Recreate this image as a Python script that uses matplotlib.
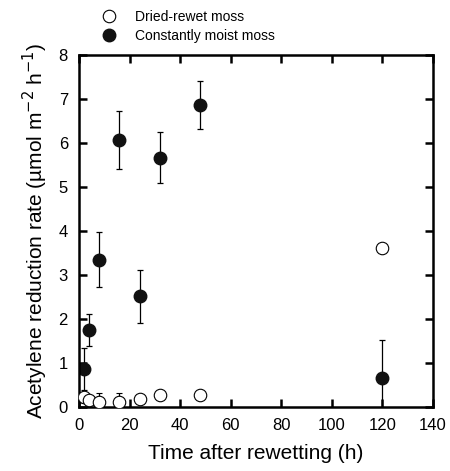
import numpy as np
import matplotlib.pyplot as plt

plt.rcParams['font.family'] = ['Liberation Sans', 'DejaVu Sans']

# constantly moist moss
hours_moist = [2, 4, 8, 16, 24, 32, 48, 120]
rate_moist = [0.87, 1.75, 3.35, 6.06, 2.52, 5.67, 6.86, 0.66]
err_moist = [0.48, 0.37, 0.62, 0.66, 0.60, 0.58, 0.54, 0.87]

# dried-rewet moss
hours_dry = [2, 4, 8, 16, 24, 32, 48, 120]
rate_dry = [0.22, 0.15, 0.12, 0.12, 0.19, 0.27, 0.28, 3.61]
err_dry = [0.13, 0.0, 0.19, 0.19, 0.0, 0.0, 0.0, 0.0]

fig = plt.figure(figsize=(4.5, 4.71), dpi=100)
ax = fig.add_axes([0.1756, 0.1359, 0.7864, 0.7473])

moist = ax.errorbar(hours_moist, rate_moist, yerr=err_moist, fmt='o', color='black',
                    mfc='#111111', mec='#111111', ms=9, elinewidth=0.9, capsize=2,
                    capthick=0.9, zorder=2)
dry = ax.errorbar(hours_dry, rate_dry, yerr=err_dry, fmt='o', color='black',
                  mfc='white', mec='black', mew=0.8, ms=9, elinewidth=0.9, capsize=2,
                  capthick=0.9, zorder=3)

ax.set_xlim(0, 140)
ax.set_ylim(0, 8)
ax.set_xticks(np.arange(0, 141, 20))
ax.set_yticks(np.arange(0, 9, 1))
ax.tick_params(direction='in', top=True, right=True, length=6, width=1.8,
               labelsize=12, pad=8)
for s in ax.spines.values():
    s.set_linewidth(1.8)

ax.set_xlabel('Time after rewetting (h)', fontsize=15, labelpad=8)
ax.set_ylabel('Acetylene reduction rate (\u00b5mol m$^{-2}$ h$^{-1}$)',
              fontsize=15, labelpad=6)

# legend shows only the markers, no error bars
fig.legend([dry[0], moist[0]], ['Dried-rewet moss', 'Constantly moist moss'],
           loc='upper left', bbox_to_anchor=(0.2267, 0.979), frameon=False,
           fontsize=10, borderpad=0, borderaxespad=0, handlelength=1.0,
           handletextpad=1.4, labelspacing=0.35)

fig.savefig('out.png', dpi=100)
